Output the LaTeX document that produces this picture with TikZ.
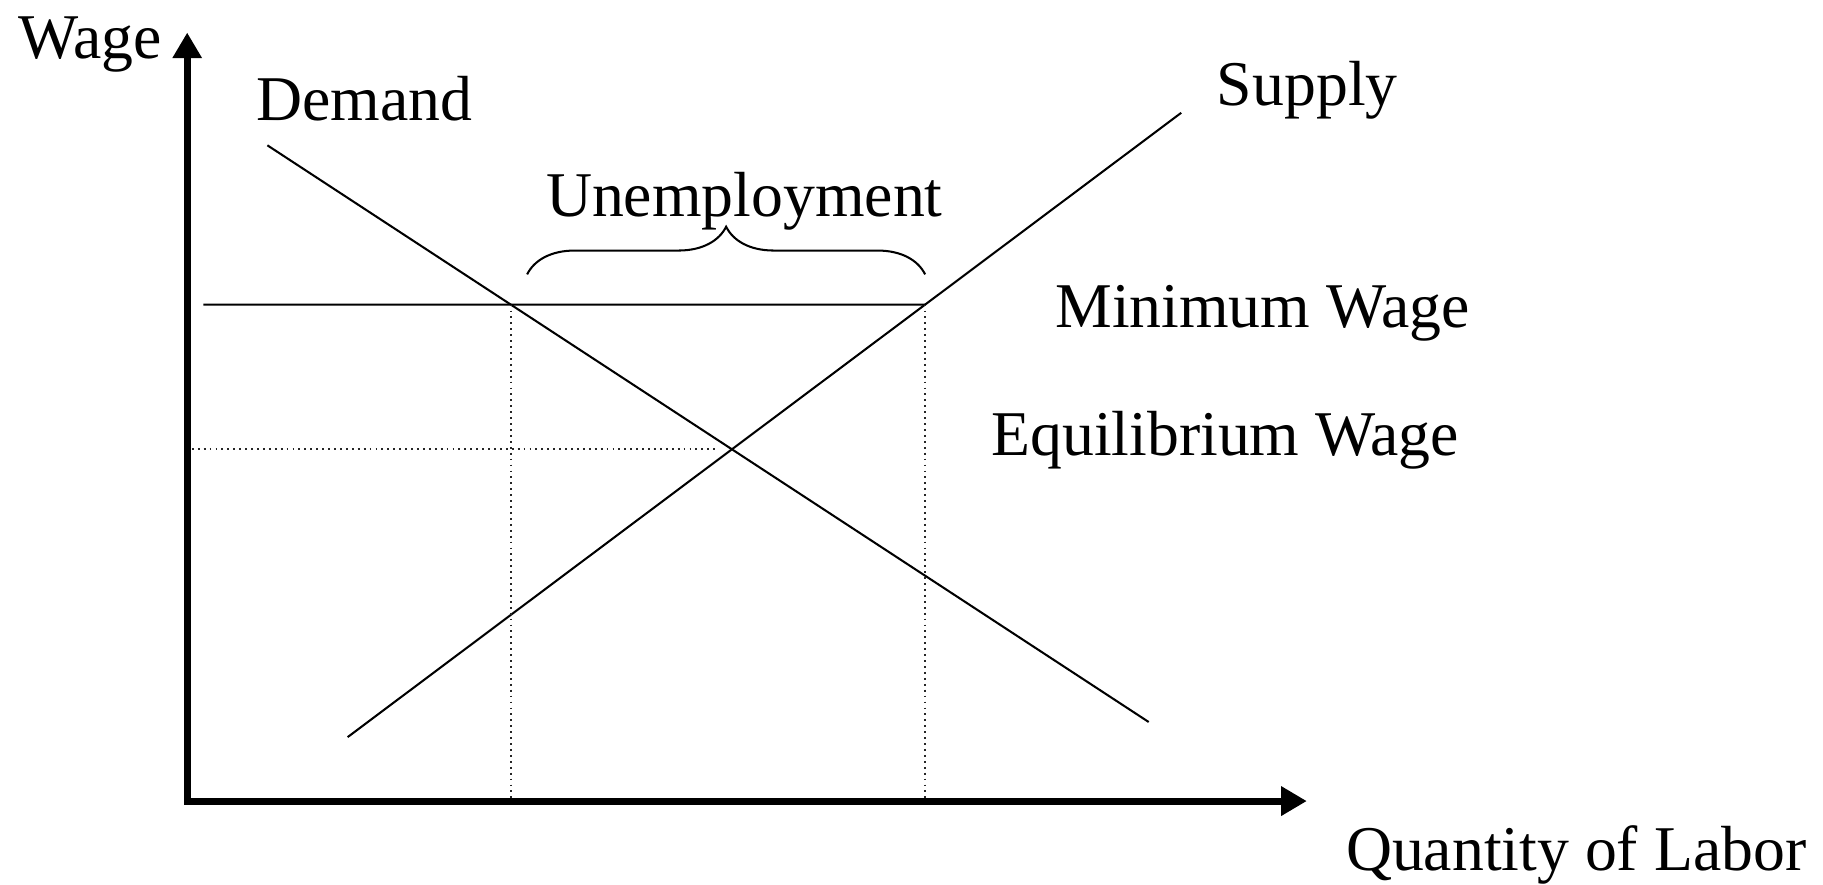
\documentclass[tikz,border=0pt]{standalone}
\usepackage{fontspec}
\setmainfont{Liberation Serif}
\usetikzlibrary{arrows.meta,calc,decorations.pathreplacing}

\begin{document}
\begin{tikzpicture}[>={Triangle[length=2.2mm,width=2.4mm]},
  axis/.style={line width=1.7pt},
  curve/.style={line width=0.5pt},
  guide/.style={line width=0.45pt,densely dotted,black!85},
  lbl/.style={inner sep=0pt,anchor=base west,font=\fontsize{15.6}{18}\selectfont}]
\useasboundingbox (0,0) rectangle (15.68,7.61);
% axes
\coordinate (O) at (1.61,0.72);
\coordinate (ytip) at (1.61,7.33);
\coordinate (xtip) at (11.24,0.72);
\draw[axis,<->] (ytip) -- (O) -- (xtip);
% demand and supply
\coordinate (d1) at (2.30,6.36);
\coordinate (d2) at (9.88,1.40);
\coordinate (s1) at (2.99,1.27);
\coordinate (s2) at (10.16,6.64);
\draw[curve] (d1) -- (d2);
\draw[curve] (s1) -- (s2);
\coordinate (eq) at (intersection of d1--d2 and s1--s2);
% minimum wage
\coordinate (mw1) at (1.75,4.99);
\coordinate (mw2) at (12,4.99);
\coordinate (qd) at (intersection of d1--d2 and mw1--mw2);
\coordinate (qs) at (intersection of s1--s2 and mw1--mw2);
\draw[curve] (mw1) -- (qs);
% dotted guides
\draw[guide] (1.65,0 |- eq) -- ($(eq)+(-0.13,0)$);
\draw[guide] (qd) -- (qd |- O);
\draw[guide] (qs) -- (qs |- O);
% unemployment brace
\draw[curve,decorate,decoration={brace,amplitude=0.41cm}]
  ($(qd)+(0.14,0.26)$) -- ($(qs)+(0,0.26)$);
% labels
\node[lbl] (wage) at (0.15,7.11) {Wage};
\node[lbl] (demand) at (2.20,6.57) {Demand};
\node[lbl] (supply) at (10.46,6.70) {Supply};
\node[lbl] (unemp) at (4.69,5.75) {Unemployment};
\node[lbl] (minwage) at (9.07,4.79) {Minimum Wage};
\node[lbl] (eqwage) at (8.52,3.69) {Equilibrium Wage};
\node[lbl] (qty) at (11.57,0.12) {Quantity of Labor};
\end{tikzpicture}
\end{document}
